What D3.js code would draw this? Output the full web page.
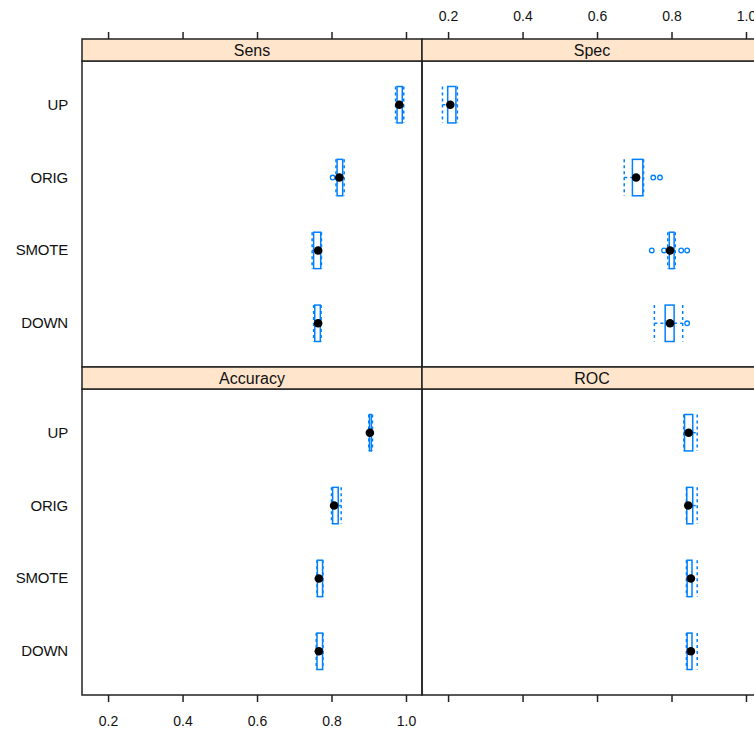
<!DOCTYPE html>
<html>
<head>
<meta charset="utf-8">
<script src="https://cdn.jsdelivr.net/npm/d3@7"></script>
<style>
  body { margin: 0; background: #fff; }
  svg text { font-family: "Liberation Sans", Arial, sans-serif; fill: #111; }
</style>
</head>
<body>
<svg width="754" height="731"></svg>
<script>
// bottom-to-top order, as lattice draws factor levels
const methods = ["DOWN", "SMOTE", "ORIG", "UP"];
const metrics = ["Sens", "Spec", "Accuracy", "ROC"];

// five-number summaries per metric, one entry per method (DOWN, SMOTE, ORIG, UP)
const mins    = { Sens: [0.752, 0.748, 0.812, 0.972], Spec: [0.754, 0.790, 0.673, 0.185], Accuracy: [0.759, 0.761, 0.800, 0.900], ROC: [0.840, 0.840, 0.840, 0.833] };
const lowerQ  = { Sens: [0.755, 0.752, 0.815, 0.976], Spec: [0.783, 0.794, 0.695, 0.199], Accuracy: [0.761, 0.762, 0.803, 0.902], ROC: [0.842, 0.842, 0.841, 0.835] };
const medians = { Sens: [0.764, 0.764, 0.821, 0.982], Spec: [0.796, 0.796, 0.705, 0.206], Accuracy: [0.766, 0.766, 0.807, 0.903], ROC: [0.852, 0.852, 0.845, 0.846] };
const upperQ  = { Sens: [0.770, 0.771, 0.830, 0.990], Spec: [0.807, 0.807, 0.723, 0.221], Accuracy: [0.776, 0.776, 0.818, 0.907], ROC: [0.855, 0.855, 0.857, 0.857] };
const maxs    = { Sens: [0.772, 0.773, 0.834, 0.994], Spec: [0.830, 0.810, 0.725, 0.225], Accuracy: [0.777, 0.777, 0.826, 0.910], ROC: [0.869, 0.869, 0.869, 0.869] };
const outliers = {
  Sens: [[], [], [0.803], []],
  Spec: [[0.842], [0.747, 0.780, 0.826, 0.842], [0.751, 0.769], []],
  Accuracy: [[], [], [], []],
  ROC: [[], [], [], []]
};
const xTicks = [0.2, 0.4, 0.6, 0.8, 1.0];

const svg = d3.select('svg');
const blue = '#0080ff';
const panelW = 340, panelH = 306, stripH = 22;
const colX = [82, 422];
const rowY = [39, 367];   // top of each strip

const x = d3.scaleLinear().domain([0.13, 1.043]).range([0, panelW]);
const y = d3.scaleLinear().domain([0.4, 4.6]).range([panelH, 0]);
const half = y(0) - y(0.25);

metrics.forEach((m, i) => {
  const px = colX[i % 2], sy = rowY[Math.floor(i / 2)];
  const g = svg.append('g').attr('transform', `translate(${px},${sy + stripH})`);

  // strip
  svg.append('rect').attr('x', px).attr('y', sy).attr('width', panelW).attr('height', stripH)
    .attr('fill', '#ffe5cc').attr('stroke', '#222').attr('stroke-width', 1.5);
  svg.append('text').attr('x', px + panelW / 2).attr('y', sy + 17).attr('text-anchor', 'middle')
    .style('font-size', '16px').text(m);

  methods.forEach((meth, j) => {
    const cy = y(j + 1);
    const s = { lo: mins[m][j], q1: lowerQ[m][j], md: medians[m][j], q3: upperQ[m][j], hi: maxs[m][j] };
    // whiskers + umbrellas (dashed)
    const dash = '3,3';
    g.append('line').attr('x1', x(s.lo)).attr('x2', x(s.q1)).attr('y1', cy).attr('y2', cy)
      .attr('stroke', blue).attr('stroke-width', 1.5).attr('stroke-dasharray', dash);
    g.append('line').attr('x1', x(s.q3)).attr('x2', x(s.hi)).attr('y1', cy).attr('y2', cy)
      .attr('stroke', blue).attr('stroke-width', 1.5).attr('stroke-dasharray', dash);
    [s.lo, s.hi].forEach(v => {
      g.append('line').attr('x1', x(v)).attr('x2', x(v)).attr('y1', cy - half).attr('y2', cy + half)
        .attr('stroke', blue).attr('stroke-width', 1.5).attr('stroke-dasharray', dash);
    });
    // box
    g.append('rect').attr('x', x(s.q1)).attr('y', cy - half)
      .attr('width', Math.max(x(s.q3) - x(s.q1), 0.5)).attr('height', 2 * half)
      .attr('fill', 'none').attr('stroke', blue).attr('stroke-width', 1.5);
    // outliers
    outliers[m][j].forEach(v => {
      g.append('circle').attr('cx', x(v)).attr('cy', cy).attr('r', 2.3)
        .attr('fill', 'none').attr('stroke', blue).attr('stroke-width', 1.3);
    });
    // median dot
    g.append('circle').attr('cx', x(s.md)).attr('cy', cy).attr('r', 4.3).attr('fill', '#000');
  });

  // panel border
  g.append('rect').attr('width', panelW).attr('height', panelH)
    .attr('fill', 'none').attr('stroke', '#222').attr('stroke-width', 1.5);
});

// y labels
[0, 1].forEach(r => {
  const top = rowY[r] + stripH;
  methods.forEach((meth, j) => {
    svg.append('text').attr('x', 68).attr('y', top + y(j + 1) + 5).attr('text-anchor', 'end')
      .style('font-size', '15px').style('letter-spacing', '-0.2px').text(meth);
  });
});

// top axes (labels only on right column), bottom axes (labels only on left column)
colX.forEach((px, c) => {
  const top = svg.append('g').attr('transform', `translate(${px},${rowY[0]})`)
    .call(d3.axisTop(x).tickValues(xTicks).tickSize(7).tickPadding(11).tickFormat(d3.format('.1f')));
  const bot = svg.append('g').attr('transform', `translate(${px},${rowY[1] + stripH + panelH})`)
    .call(d3.axisBottom(x).tickValues(xTicks).tickSize(7).tickPadding(14).tickFormat(d3.format('.1f')));
  [top, bot].forEach(a => {
    a.select('.domain').remove();
    a.selectAll('line').attr('stroke', '#222').attr('stroke-width', 1.5);
    a.selectAll('text').style('font-size', '14px').style('font-family', '"Liberation Sans", Arial, sans-serif');
  });
  if (c === 0) top.selectAll('text').remove();
  else bot.selectAll('text').remove();
});
</script>
</body>
</html>
